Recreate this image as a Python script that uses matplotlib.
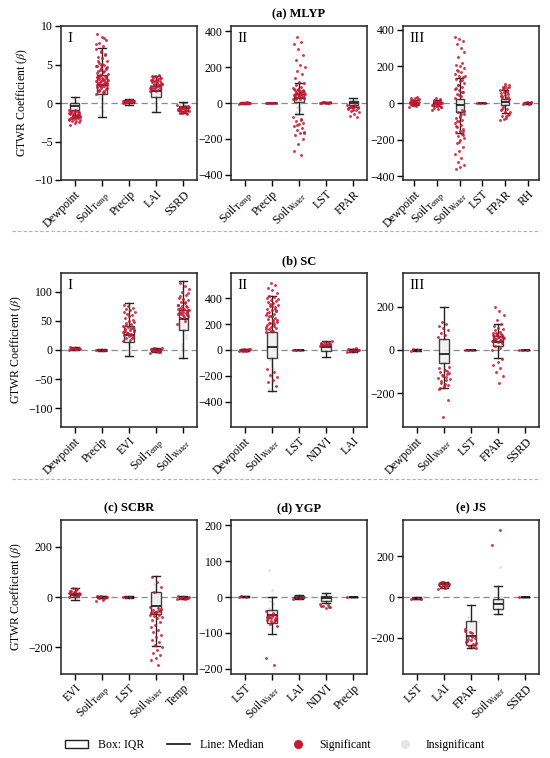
#!/usr/bin/env python

"""
GTWR coefficient box plots for five regions (MLYP, SC, SCBR, YGP, JS)
"""

import matplotlib
matplotlib.use('Agg')
import matplotlib.pyplot as plt
from matplotlib.lines import Line2D
from matplotlib.patches import Patch
import numpy as np

SOIL_T = r'Soil$_{\mathrm{Temp}}$'
SOIL_W = r'Soil$_{\mathrm{Water}}$'

RED = '#c41a33'
GREY = '#d6d6d6'

###### (a) MLYP ######
MLYP_I_VARS = ['Dewpoint', SOIL_T, 'Precip', 'LAI', 'SSRD']
MLYP_I_BOX = [(-1.8, -0.85, -0.4, 0.0, 0.8), (-1.8, 1.2, 2.3, 3.7, 7.2),
              (-0.3, 0.05, 0.2, 0.35, 0.5), (-1.2, 0.8, 1.5, 2.2, 3.5),
              (-1.3, -1.1, -0.7, -0.35, 0.1)]
MLYP_I_SIG = [
    [-0.9, -1.0, -1.1, -1.2, -1.3, -1.4, -1.5, -1.6, -1.7, -1.8, -1.9, -2.0, -2.1,
     -2.2, -2.3, -2.4, -2.5, -2.6, -2.8, -1.2, -1.5, -1.8, -2.0, -1.1, -1.4, -1.0,
     -1.3, -1.6, -1.9, -2.2, -0.95, -1.25, -1.55, -1.75, -2.05],
    [1.2, 1.4, 1.6, 1.8, 2.0, 2.1, 2.2, 2.3, 2.4, 2.5, 2.6, 2.7, 2.8, 2.9, 3.0, 3.1,
     3.2, 3.3, 3.4, 3.5, 3.6, 3.8, 4.0, 4.2, 4.4, 4.6, 4.8, 5.0, 5.2, 5.5, 5.8, 6.0,
     6.3, 6.6, 7.0, 7.4, 7.8, 8.2, 8.6, 9.0, 1.5, 2.2, 2.6, 3.0, 3.4, 4.5, 5.0, 4.8,
     1.3, 1.7, 1.9, 2.15, 2.35, 2.55, 2.75, 2.95, 3.15, 3.35, 3.55, 3.7, 3.9, 4.1,
     4.3, 4.7, 5.1, 5.4, 6.2, 6.8, 7.6, 8.4],
    [0.0, 0.1, 0.15, 0.2, 0.25, 0.3, 0.35, 0.4, 0.2, 0.3, 0.05, 0.12, 0.22, 0.28,
     0.33, 0.18],
    [1.5, 1.7, 1.9, 2.0, 2.1, 2.2, 2.3, 2.4, 2.5, 2.6, 2.7, 2.8, 2.9, 3.0, 3.1, 3.2,
     3.3, 3.4, 3.5, 3.6, 2.0, 2.5, 3.0, 2.8, 2.3, 1.6, 1.8, 2.15, 2.45, 2.65, 2.85,
     3.05, 3.25, 3.45, 1.95, 2.35],
    [-0.3, -0.4, -0.5, -0.6, -0.7, -0.8, -0.9, -1.0, -1.1, -1.2, -1.3, -1.4, -0.6,
     -0.9, -1.1, -0.7, -0.45, -0.65, -0.85, -1.05, -1.25, -0.55, -0.75, -0.95],
]
MLYP_I_INSIG = [[-0.5, -0.2, 0.0, 0.3, 0.5, 0.8, -0.6],
                [-1.5, -1.0, -0.5, 0.0, 0.5, 0.8, 1.0], [],
                [-1.0, -0.5, 0.0, 0.5, 1.0, 1.2], [0.0, -0.2]]

MLYP_II_VARS = [SOIL_T, 'Precip', SOIL_W, 'LST', 'FPAR']
MLYP_II_BOX = [(-3, -1, 0, 1, 3), (-2, -1, 0, 1, 2), (-63, 7, 30, 50, 114),
               (0, 1, 2, 3, 4), (-20, -12, 0, 12, 30)]
MLYP_II_SIG = [
    [-3, -2, -1, 0, 1, 2, 3, 0, -1, 1, -2, 2],
    [-1, 0, 1, 0, -0.5, 0.5],
    [20, 25, 30, 35, 40, 45, 50, 55, 60, 65, 70, 75, 80, 85, 90, 100, 110, 120, 140,
     160, 180, 200, 210, 240, 270, 300, 330, 340, 370, 30, 40, 50, 60, 70, -80, -90,
     -100, -110, -120, -130, -140, -150, -160, -170, -180, -200, -230, -270, -290,
     22, 28, 33, 38, 43, 48, 53, 58, 63, 68, 73, 78, -95, -125, -165],
    [1, 2, 3, 4, 2, 1.5, 2.5, 3.5],
    [-10, -15, -20, -25, -30, -35, -40, -45, -50, -60, -70, -80, -20, -30, -12,
     -22, -28, -38],
]
MLYP_II_INSIG = [[], [], [-60, -40, -20, 0, 10, -50, -30], [], [-5, 5, 10, 20]]

MLYP_III_VARS = ['Dewpoint', SOIL_T, SOIL_W, 'LST', 'FPAR', 'RH']
MLYP_III_BOX = [(-12, -5, 0, 6, 15), (-15, -6, 0, 5, 15), (-165, -47, -10, 23, 134),
                (-2, -1, 0, 1, 2), (-56, -11, 5, 23, 70), (-4, -2, 0, 2, 4)]
MLYP_III_SIG = [
    [-20, -15, -10, -5, 0, 5, 10, 15, 20, 25, 30, 35, -10, 0, 10, 5, -5, -12, -8,
     -3, 3, 8, 12, 18, 22],
    [-40, -30, -25, -20, -15, -10, -5, 0, 5, 10, 15, 20, 25, -10, 0, 10, -20, -18,
     -12, -7, -2, 2, 7, 12, 18],
    [30, 40, 50, 60, 70, 80, 90, 100, 110, 120, 130, 140, 150, 160, 170, 180, 190,
     200, 210, 220, 250, 280, 300, 320, 340, 350, 360, -40, -50, -60, -70, -80, -90,
     -100, -110, -120, -130, -140, -150, -160, -170, -180, -190, -200, -220, -240,
     -260, -280, -300, -320, -340, -350, -360, 60, 100, 150, -60, -100, -150, 45,
     75, 125, 175, -45, -75, -125, -175, -210],
    [-1, 0, 1],
    [-90, -80, -70, -60, -50, -40, -30, -20, 20, 30, 40, 50, 60, 70, 80, 90, 100, 105,
     40, 60, 80, -50, -70, 25, 35, 45, 55, 65, 75, 85, 95, -35, -65, -85],
    [-5, -3, 0, 3, 5, -2, 2],
]
MLYP_III_INSIG = [[], [], [-40, -20, 0, 20, -30, 10], [], [-10, 0, 10], []]

###### (b) SC ######
SC_I_VARS = ['Dewpoint', 'Precip', 'EVI', SOIL_T, SOIL_W]
SC_I_BOX = [(0, 1, 2, 3.5, 5), (-1, -0.5, 0, 0.5, 1), (-11, 13, 25, 41, 80),
            (-4, -2, 0, 2, 4), (-14, 34, 54, 69, 119)]
SC_I_SIG = [
    [0, 1, 2, 3, 4, 5, 2, 3, 1.5, 2.5, 3.5],
    [0, 0.5, -0.5, 0.2],
    [15, 18, 20, 22, 24, 26, 28, 30, 32, 34, 36, 38, 40, 42, 44, 46, 48, 50, 55, 60,
     62, 65, 68, 70, 72, 75, 78, 25, 30, 35, 28, 33, 21, 27, 31, 37, 43, 52, 58, 66],
    [-5, -3, -2, -1, 0, 1, 2, 3, 4, -2, 1, -4, 0.5],
    [45, 50, 55, 58, 60, 62, 64, 66, 68, 70, 72, 74, 76, 78, 80, 82, 85, 88, 90, 95,
     100, 105, 110, 115, 60, 65, 70, 75, 62, 68, 57, 63, 67, 71, 77, 83, 92, 98],
]
SC_I_INSIG = [[], [], [-10, -5, 0, 5, 10, 15], [],
              [-10, 0, 10, 20, 30, 40, 50, 5, 25, 35, 45]]

SC_II_VARS = ['Dewpoint', SOIL_W, 'LST', 'NDVI', 'LAI']
SC_II_BOX = [(-8, -4, 0, 4, 8), (-320, -59, 20, 136, 415), (-3, -1, 0, 1, 3),
             (-51, -8, 20, 36, 72), (-12, -6, -2, 4, 10)]
SC_II_SIG = [
    [-10, -5, 0, 5, 10, -3, 3, -7, 7],
    [140, 150, 160, 170, 180, 190, 200, 210, 220, 230, 240, 250, 260, 270, 280, 290,
     300, 310, 320, 330, 340, 350, 360, 370, 380, 390, 400, 410, 420, 440, 460, 480,
     500, 520, 180, 220, 260, 300, 340, -150, -170, -190, -210, -230, -250, -280,
     145, 165, 185, 205, 235, 265, 285, 315, 355, 395],
    [-2, 0, 2],
    [30, 35, 40, 45, 50, 55, 60, 65, 70, 40, 50, 45, 38, 48, 58],
    [-15, -10, -5, 0, 5, 10, 15, -8, 3],
]
SC_II_INSIG = [[], [-300, -250, -200, -150, -100, -50, 0, 50, 100, -120, -80, 20],
               [], [], []]

SC_III_VARS = ['Dewpoint', SOIL_W, 'LST', 'FPAR', 'SSRD']
SC_III_BOX = [(-3, -2, 0, 2, 3), (-175, -58, -20, 49, 197), (-2, -1, 0, 1, 2),
              (-38, 20, 38, 65, 120), (-2, -1, 0, 1, 2)]
SC_III_SIG = [
    [-3, 0, 3],
    [60, 70, 80, 90, 100, 110, 120, 130, -80, -90, -100, -110, -120, -130, -140,
     -150, -160, -170, -180, -95, -115, -135, -155, -175, -230, -310, -85, -125, -145,
     -105, -165],
    [-2, 0, 2],
    [0, 10, 20, 30, 35, 40, 45, 50, 55, 60, 65, 70, 75, 80, 85, 90, 95, 100, 110, 120,
     140, 160, 180, 200, -40, -55, -70, -85, -100, -120, -150, 50, 60, 70, 42, 48,
     52, 58, 62, 68, 72, 78],
    [-1, 0, 1],
]
SC_III_INSIG = [[], [-60, -40, -20, 0, 20, 40, -50], [], [10, 25, 40], []]

###### (c) SCBR, (d) YGP, (e) JS ######
SCBR_VARS = ['EVI', SOIL_T, 'LST', SOIL_W, 'Temp']
SCBR_BOX = [(-13, 0, 9, 16, 35), (-5, -2, 0, 3, 5), (-2, -1, 0, 1, 2),
            (-195, -68, -34, 18, 84), (-6, -4, -2, 0, 2)]
SCBR_SIG = [
    [0, 5, 10, 15, 20, 25, 30, 35, 12, 18, 22, 8, 3, 14, 27],
    [-15, -10, -5, 0, 3, 5, -3, -1, 1],
    [-1, 0, 1],
    [-40, -45, -50, -55, -60, -65, -70, -75, -80, -85, -90, -100, -110, -120, -130,
     -140, -150, -160, -170, -180, -190, -200, -210, -220, -230, -240, -250, -270,
     20, 40, 60, 80, -50, -60, -70, -55, -65, -48, -58, -62],
    [-8, -6, -4, -2, 0, 2, -5, -3, -1],
]
SCBR_INSIG = [[], [], [], [-30, -10, 0, 10, 20, 50, -20], []]

YGP_VARS = ['LST', SOIL_W, 'LAI', 'NDVI', 'Precip']
YGP_BOX = [(-1, 0, 1, 2, 3), (-104, -72, -49, -35, 0), (-6, -4, -2, 2, 5),
           (-17, -10, -4, 2, 10), (-1, -0.5, 0, 0.5, 1)]
YGP_SIG = [
    [0, 1, 2],
    [-40, -45, -50, -55, -60, -65, -70, -75, -80, -50, -58, -62, -68, -170, -190,
     -55, -65, -52, -57, -63],
    [-5, -3, -1, 0],
    [-20, -23, -26, -29, -32, -25, -28],
    [0],
]
YGP_INSIG = [[], [-30, -20, -10, 0, 20, 75], [], [-5, 0], []]

JS_VARS = ['LST', 'LAI', 'FPAR', SOIL_W, 'SSRD']
JS_BOX = [(-12, -9, -6, -4, -2), (45, 55, 62, 70, 76), (-250, -238, -190, -118, -38),
          (-82, -59, -33, -10, 52), (-2, -1, 0, 1, 2)]
JS_SIG = [
    [-8, -6, -4, -10],
    [40, 45, 50, 55, 60, 65, 70, 75, 62, 58, 68, 64, 72],
    [-170, -180, -190, -200, -210, -220, -230, -240, -250, -195, -215, -235, -175,
     -160, -245, -205, -225],
    [257, 331],
    [0],
]
JS_INSIG = [[], [], [-100, -140], [-60, -40, -20, 0, 20, 50, 150], []]

plt.rcParams['font.family'] = ['Liberation Serif', 'DejaVu Serif']
plt.rcParams['mathtext.fontset'] = 'stix'
plt.rcParams['axes.unicode_minus'] = True


def jitter(n, spread=0.22):
    """deterministic horizontal spread for n points"""
    k = np.arange(n)
    return ((k * 0.6180339887) % 1.0 - 0.5) * 2 * spread


def draw_panel(ax, names, box, sig, insig, ylim, yticks, tag=None):
    """one panel: grey points, IQR boxes, red significant points"""
    pos = np.arange(len(names))
    for i in pos:
        if insig[i]:
            ax.scatter(i + jitter(len(insig[i]), 0.12), insig[i], s=4, color=GREY,
                       alpha=0.7, lw=0, zorder=1)
    stats = [dict(whislo=b[0], q1=b[1], med=b[2], q3=b[3], whishi=b[4], fliers=[])
             for b in box]
    ax.bxp(stats, positions=pos, widths=0.36, patch_artist=True, showfliers=False,
           capwidths=0.3,
           boxprops=dict(facecolor='#f0f0f0', edgecolor='#222222', lw=1.0, alpha=0.85),
           whiskerprops=dict(color='#222222', lw=1.0),
           capprops=dict(color='#222222', lw=1.0),
           medianprops=dict(color='#111111', lw=1.2), zorder=2)
    for i in pos:
        ax.scatter(i + jitter(len(sig[i])), sig[i], s=4.5, color=RED, alpha=0.85,
                   lw=0, zorder=3)
    ax.axhline(0, color='#8a8a8a', lw=0.9, ls=(0, (5, 3)), zorder=0)
    ax.set_xlim(-0.5, len(names) - 0.5)
    ax.set_ylim(*ylim)
    ax.set_yticks(yticks)
    ax.set_xticks(pos)
    ax.set_xticklabels(names, rotation=45, ha='right', rotation_mode='anchor')
    ax.tick_params(direction='out', length=4, width=1, labelsize=8.5, pad=2)
    for sp in ax.spines.values():
        sp.set_linewidth(1.1)
        sp.set_color('#222222')
    if tag:
        ax.text(0.05, 0.96, tag, transform=ax.transAxes, ha='left', va='top',
                fontsize=11)


def main():
    fig = plt.figure(figsize=(5.5, 7.58), dpi=100)
    W, H = 550.0, 758.0
    lefts = [61, 231, 403]
    tops = [26, 273, 520]

    def axes_at(col, row):
        return fig.add_axes([lefts[col] / W, 1 - (tops[row] + 154) / H, 136 / W, 154 / H])

    panels = [
        (0, 0, MLYP_I_VARS, MLYP_I_BOX, MLYP_I_SIG, MLYP_I_INSIG, (-10, 10),
         [-10, -5, 0, 5, 10], 'I', None),
        (1, 0, MLYP_II_VARS, MLYP_II_BOX, MLYP_II_SIG, MLYP_II_INSIG, (-430, 430),
         [-400, -200, 0, 200, 400], 'II', '(a) MLYP'),
        (2, 0, MLYP_III_VARS, MLYP_III_BOX, MLYP_III_SIG, MLYP_III_INSIG, (-420, 420),
         [-400, -200, 0, 200, 400], 'III', None),
        (0, 1, SC_I_VARS, SC_I_BOX, SC_I_SIG, SC_I_INSIG, (-132, 132),
         [-100, -50, 0, 50, 100], 'I', None),
        (1, 1, SC_II_VARS, SC_II_BOX, SC_II_SIG, SC_II_INSIG, (-595, 595),
         [-400, -200, 0, 200, 400], 'II', '(b) SC'),
        (2, 1, SC_III_VARS, SC_III_BOX, SC_III_SIG, SC_III_INSIG, (-355, 355),
         [-200, 0, 200], 'III', None),
        (0, 2, SCBR_VARS, SCBR_BOX, SCBR_SIG, SCBR_INSIG, (-305, 305),
         [-200, 0, 200], None, '(c) SCBR'),
        (1, 2, YGP_VARS, YGP_BOX, YGP_SIG, YGP_INSIG, (-215, 215),
         [-200, -100, 0, 100, 200], None, '(d) YGP'),
        (2, 2, JS_VARS, JS_BOX, JS_SIG, JS_INSIG, (-380, 380),
         [-200, 0, 200], None, '(e) JS'),
    ]
    for col, row, names, box, sig, insig, ylim, yticks, tag, title in panels:
        ax = axes_at(col, row)
        draw_panel(ax, names, box, sig, insig, ylim, yticks, tag)
        if title:
            ax.set_title(title, fontsize=9, fontweight='bold', pad=6)
        if col == 0:
            ax.set_ylabel(r'GTWR Coefficient ($\beta$)', fontsize=8.5, labelpad=3)

    # dashed separators between the region rows
    for y in (231, 479):
        fig.add_artist(Line2D([12 / W, 540 / W], [1 - y / H, 1 - y / H], color='#b0b0b0',
                              lw=0.8, ls=(0, (3, 2))))

    handles = [
        Patch(facecolor='white', edgecolor='#222222', lw=1.0, label='Box: IQR'),
        Line2D([], [], color='#111111', lw=1.2, label='Line: Median'),
        Line2D([], [], marker='o', ls='none', color=RED, markersize=5.5,
               label='Significant'),
        Line2D([], [], marker='o', ls='none', color='#e6e6e6', markersize=5.5,
               label='Insignificant'),
    ]
    fig.legend(handles=handles, loc='center', bbox_to_anchor=(0.5, 1 - 745 / H), ncol=4,
               frameon=False, fontsize=8.5, handlelength=2.0, handletextpad=0.8,
               columnspacing=1.9)

    fig.savefig('out.png', dpi=100, facecolor='w')


if __name__ == "__main__":
    main()
